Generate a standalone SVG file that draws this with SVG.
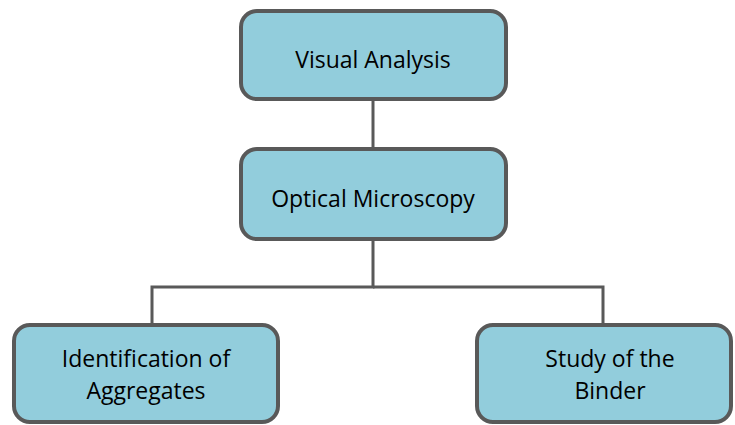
<svg xmlns="http://www.w3.org/2000/svg" width="735" height="425" viewBox="0 0 735 425">
<style>
.box{fill:#92CDDC;stroke:#595959;stroke-width:4}
.lbl{font-family:"Open Sans","Noto Sans",sans-serif;font-size:23px;fill:#000;text-anchor:middle}
.con{fill:none;stroke:#595959;stroke-width:3}
</style>
<rect width="735" height="425" fill="#fff"/>
<g id="connectors">
<line class="con" x1="373" y1="99" x2="373" y2="149"/>
<polyline class="con" points="373,239 373,287 152,287 152,324"/>
<polyline class="con" points="373,287 603,287 603,324"/>
</g>
<g id="visual-analysis">
<rect class="box" x="241" y="11" width="265" height="88" rx="16"/>
<text class="lbl" x="373" y="68">Visual Analysis</text>
</g>
<g id="optical-microscopy">
<rect class="box" x="241" y="149" width="265" height="90" rx="16"/>
<text class="lbl" x="373" y="207">Optical Microscopy</text>
</g>
<g id="identification">
<rect class="box" x="14" y="325" width="264" height="97" rx="16"/>
<text class="lbl" x="146" y="367">Identification of</text>
<text class="lbl" x="146" y="399">Aggregates</text>
</g>
<g id="binder">
<rect class="box" x="477" y="325" width="254" height="97" rx="16"/>
<text class="lbl" x="610" y="367">Study of the</text>
<text class="lbl" x="610" y="399">Binder</text>
</g>
</svg>
